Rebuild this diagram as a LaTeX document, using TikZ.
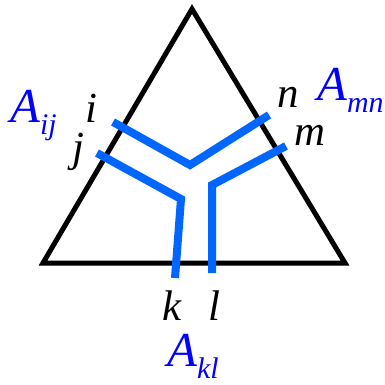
\documentclass[tikz,border=0pt]{standalone}
\usepackage{fontspec}
\setmainfont{Liberation Serif}
\definecolor{PairBlue}{HTML}{0066FF}
\begin{document}
\begin{tikzpicture}[x=1bp,y=-1bp]
  \tikzstyle{pairline}=[draw=PairBlue,line width=8bp]
  \tikzstyle{index}=[inner sep=0pt,anchor=base,
    font=\fontsize{43}{46}\selectfont\itshape]
  \tikzstyle{block}=[inner sep=0pt,anchor=base west,text=blue,
    font=\fontsize{49}{52}\selectfont\itshape]
  \newcommand{\blocksub}[1]{\raisebox{-12bp}{\fontsize{30}{32}\selectfont #1}}
  \useasboundingbox (0,0) rectangle (385,385);
  % triangle
  \coordinate (top) at (192,9);
  \coordinate (left) at (43,263);
  \coordinate (right) at (345,263);
  \draw[line width=5bp] (top) -- (left) -- (right) -- cycle;
  % blue pair lines
  \coordinate (ei) at (113,122);
  \coordinate (en) at (269,115);
  \coordinate (ej) at (97,153);
  \coordinate (ek) at (175,278);
  \coordinate (em) at (286,146);
  \coordinate (el) at (212,273);
  \draw[pairline] (ei) -- (190,165) -- (en);
  \draw[pairline] (ej) -- (181,199) -- (ek);
  \draw[pairline] (em) -- (212,185) -- (el);
  % index labels
  \node[index] (i) at (91,122) {i};
  \node[index] (j) at (78,161) {j};
  \node[index] (n) at (288,107) {n};
  \node[index] (m) at (310,145) {m};
  \node[index] (k) at (172,320) {k};
  \node[index] (l) at (214,320) {l};
  % block labels
  \node[block] (Aij) at (10,122) {A\blocksub{ij}};
  \node[block] (Amn) at (317,100) {A\blocksub{mn}};
  \node[block] (Akl) at (167,366) {A\blocksub{kl}};
\end{tikzpicture}
\end{document}
